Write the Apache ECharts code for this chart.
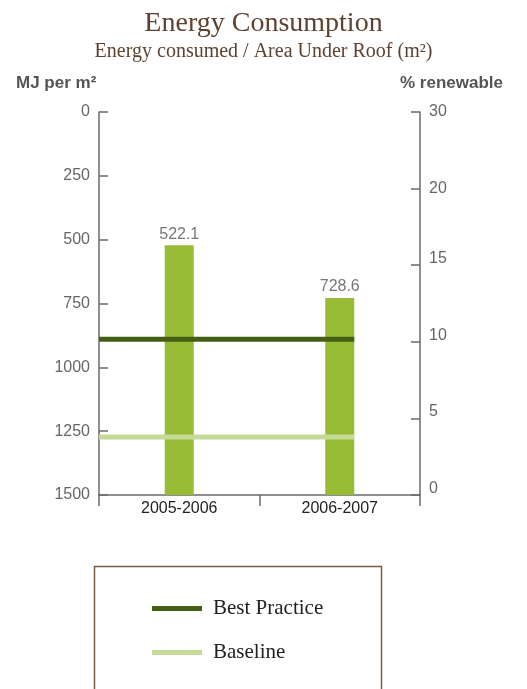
<!DOCTYPE html>
<html>
<head>
<meta charset="utf-8">
<script src="https://cdn.jsdelivr.net/npm/echarts@6/dist/echarts.min.js"></script>
<style>
  html, body { margin: 0; padding: 0; background: #fff; }
  #chart { width: 527px; height: 689px; }
</style>
</head>
<body>
<div id="chart"></div>
<script>
// Reporting periods and energy intensity (MJ per m²)
const categories = ['2005-2006', '2006-2007'];
const energyPerArea = [522.1, 728.6];

// Reference levels (MJ per m²)
const bestPractice = 890;
const baseline = 1273;

// Left axis ticks and the renewable-share scale on the right
const leftTicks = { min: 0, max: 1500, interval: 250 };
const renewableTickLabels = ['0', '5', '10', '15', '20', '30'];

const BAR_W = 29;
const SANS = '"Liberation Sans", Arial, sans-serif';
const SERIF = '"Liberation Serif", "Times New Roman", serif';
const AXIS_GREY = '#6b6b6b';

// lower right-hand labels sit slightly above their ticks
const raisedLabels = ['0', '5', '10', '15'];

const chart = echarts.init(document.getElementById('chart'), null, { renderer: 'canvas' });

function barItem(params, api) {
  const top = api.coord([api.value(0), api.value(1)]);
  const cs = params.coordSys;
  const bottom = cs.y + cs.height;
  return {
    type: 'rect',
    shape: { x: top[0] - BAR_W / 2, y: top[1], width: BAR_W, height: bottom - top[1] },
    style: { fill: api.visual('color') },
    textContent: {
      style: { text: String(api.value(1)), fill: '#777', font: '16px ' + SANS }
    },
    textConfig: { position: 'top', distance: 3 }
  };
}

function levelItem(params, api) {
  const y = api.coord([0, api.value(1)])[1];
  const cs = params.coordSys;
  const xEnd = api.coord([categories.length - 1, api.value(1)])[0] + BAR_W / 2;
  return {
    type: 'line',
    shape: { x1: cs.x, y1: y, x2: xEnd, y2: y },
    style: { stroke: api.visual('color'), lineWidth: 5 }
  };
}

chart.setOption({
  animation: false,
  title: [
    {
      text: 'Energy Consumption',
      left: 'center', top: 5,
      textStyle: { fontFamily: SERIF, fontSize: 28, fontWeight: 'normal', color: '#5e4230' }
    },
    {
      text: 'Energy consumed / Area Under Roof (m²)',
      left: 'center', top: 37,
      textStyle: { fontFamily: SERIF, fontSize: 20, fontWeight: 'normal', color: '#5e4230' }
    },
    {
      text: 'MJ per m²',
      left: 11, top: 70,
      textStyle: { fontFamily: SANS, fontSize: 17, fontWeight: 'bold', color: '#555' }
    },
    {
      text: '% renewable',
      right: 19, top: 70,
      textStyle: { fontFamily: SANS, fontSize: 17, fontWeight: 'bold', color: '#555' }
    }
  ],
  grid: { left: 99, right: 107, top: 112, bottom: 194 },
  legend: {
    orient: 'vertical',
    left: 147, top: 593,
    itemWidth: 50, itemHeight: 5,
    itemGap: 23,
    icon: 'rect',
    data: ['Best Practice', 'Baseline'],
    textStyle: { fontFamily: SERIF, fontSize: 21, color: '#222', padding: [0, 0, 0, 6] }
  },
  graphic: [
    {
      type: 'rect',
      shape: { x: 94.5, y: 566.5, width: 287, height: 200 },
      style: { fill: 'none', stroke: '#7a5c45', lineWidth: 1.5 },
      silent: true
    }
  ],
  xAxis: {
    type: 'category',
    data: categories,
    position: 'bottom',
    boundaryGap: true,
    axisLine: { onZero: false, lineStyle: { color: AXIS_GREY, width: 1.5 } },
    axisTick: { show: true, length: 11, lineStyle: { color: AXIS_GREY, width: 1.5 } },
    axisLabel: { fontFamily: SANS, fontSize: 16, color: '#222', margin: 6 },
    splitLine: { show: false }
  },
  yAxis: [
    {
      type: 'value',
      inverse: true,
      min: leftTicks.min, max: leftTicks.max, interval: leftTicks.interval,
      position: 'left',
      axisLine: { show: true, lineStyle: { color: AXIS_GREY, width: 1.5 } },
      axisTick: { show: true, inside: true, length: 9, lineStyle: { color: AXIS_GREY, width: 1.5 } },
      axisLabel: {
        fontFamily: SANS, fontSize: 16, color: '#666', margin: 9,
        formatter: v => String(v)
      },
      splitLine: { show: false }
    },
    {
      type: 'category',
      data: renewableTickLabels,
      boundaryGap: false,
      position: 'right',
      axisLine: { show: true, lineStyle: { color: AXIS_GREY, width: 1.5 } },
      axisTick: { show: true, inside: true, length: 9, lineStyle: { color: AXIS_GREY, width: 1.5 } },
      axisLabel: {
        fontFamily: SANS, fontSize: 16, color: '#666', margin: 9,
        lineHeight: 13,
        formatter: v => raisedLabels.includes(v) ? v + '\n ' : v
      },
      splitLine: { show: false }
    }
  ],
  series: [
    {
      name: 'MJ per m²',
      type: 'custom',
      xAxisIndex: 0, yAxisIndex: 0,
      itemStyle: { color: '#98bc35' },
      renderItem: barItem,
      data: categories.map((c, i) => [i, energyPerArea[i]]),
      z: 2
    },
    {
      name: 'Best Practice',
      type: 'custom',
      xAxisIndex: 0, yAxisIndex: 0,
      itemStyle: { color: '#445f14' },
      renderItem: levelItem,
      data: [[0, bestPractice]],
      z: 3
    },
    {
      name: 'Baseline',
      type: 'custom',
      xAxisIndex: 0, yAxisIndex: 0,
      itemStyle: { color: '#c6da97' },
      renderItem: levelItem,
      data: [[0, baseline]],
      z: 3
    }
  ]
});
</script>
</body>
</html>
